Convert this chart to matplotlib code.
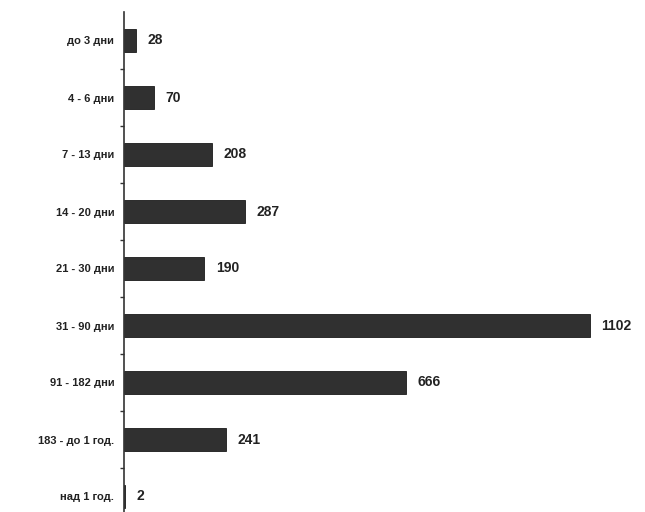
import matplotlib
matplotlib.use("Agg")
import matplotlib.pyplot as plt
import numpy as np

categories = ["до 3 дни", "4 - 6 дни", "7 - 13 дни", "14 - 20 дни", "21 - 30 дни",
              "31 - 90 дни", "91 - 182 дни", "183 - до 1 год.", "над 1 год."]
values = [28, 70, 208, 287, 190, 1102, 666, 241, 2]

plt.rcParams["font.family"] = ["Liberation Sans", "DejaVu Sans"]

fig = plt.figure(figsize=(6.45, 5.12), dpi=100)
ax = fig.add_axes([124 / 645, 1 - 525 / 512, 1 - 124 / 645, 513 / 512])

y = np.arange(len(categories))
ax.barh(y, values, height=0.39, color="#303030", edgecolor="#1a1a1a", linewidth=0.6)
ax.set_ylim(len(categories) - 0.5, -0.5)
ax.set_xlim(0, 1232)

# value labels to the right of each bar
for yi, v in zip(y, values):
    ax.text(v + 27, yi, str(v), va="center", ha="left", fontsize=10,
            fontweight="bold", color="#222222")

ax.set_yticks(y)
ax.set_yticklabels(categories, fontsize=8, fontweight="bold", color="#222222")
ax.tick_params(axis="y", which="major", length=0, pad=7)
ax.set_yticks(np.arange(len(categories) - 1) + 0.5, minor=True)
ax.tick_params(axis="y", which="minor", length=3, width=1, color="#333333", direction="out")

ax.set_xticks([])
for side in ("top", "right", "bottom"):
    ax.spines[side].set_visible(False)
ax.spines["left"].set_linewidth(1.2)
ax.spines["left"].set_color("#333333")

fig.savefig("out.png", dpi=100)
